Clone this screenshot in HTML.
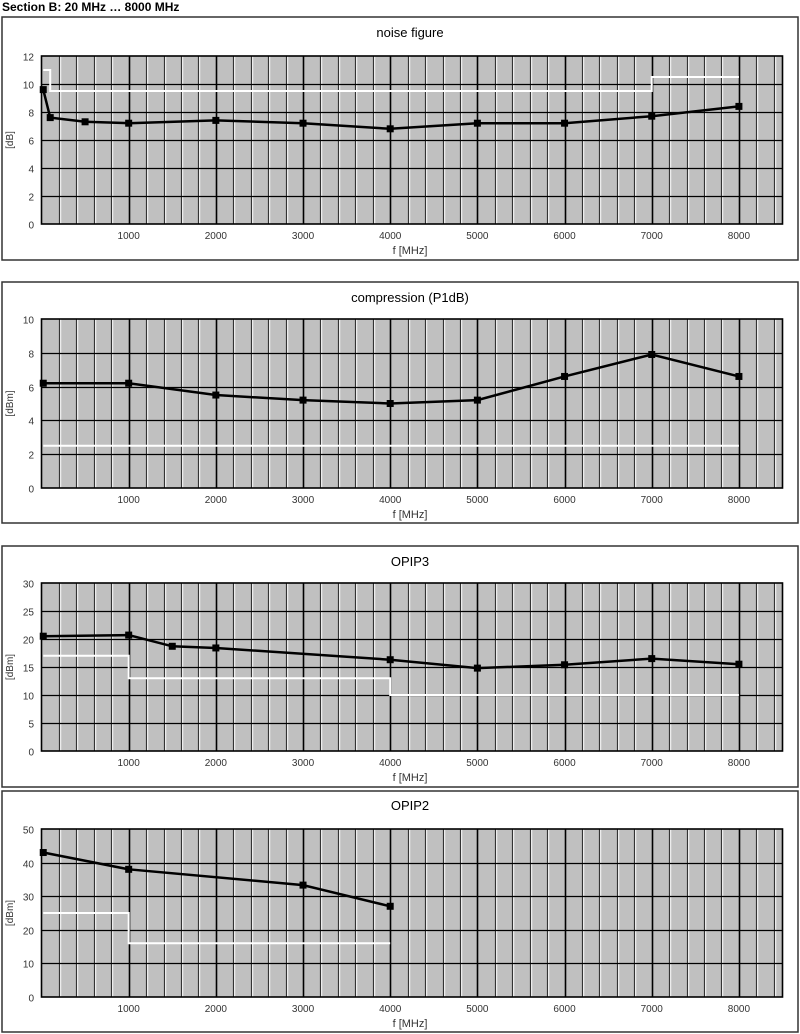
<!DOCTYPE html>
<html><head><meta charset="utf-8"><style>
body{margin:0;background:#fff;width:800px;height:1034px;overflow:hidden}
svg{display:block;font-family:"Liberation Sans",Arial,sans-serif}
</style></head><body>
<svg id="s" width="800" height="1034" xmlns="http://www.w3.org/2000/svg">
<text x="2" y="11" font-size="12" font-weight="bold">Section B: 20 MHz … 8000 MHz</text>
</svg>
<script>
// noise figure
const nfFreq=[20,100,500,1000,2000,3000,4000,5000,6000,7000,8000];
const nfVals=[9.6,7.6,7.3,7.2,7.4,7.2,6.8,7.2,7.2,7.7,8.4];
const nfSpecF=[20,20,100,100,7000,7000,8000];
const nfSpecV=[11,11,11,9.5,9.5,10.5,10.5];
const nfTicks=[0,2,4,6,8,10,12];
// compression
const p1Freq=[20,1000,2000,3000,4000,5000,6000,7000,8000];
const p1Vals=[6.2,6.2,5.5,5.2,5.0,5.2,6.6,7.9,6.6];
const p1SpecF=[20,8000];
const p1SpecV=[2.5,2.5];
const p1Ticks=[0,2,4,6,8,10];
// OPIP3
const ip3Freq=[20,1000,1500,2000,4000,5000,6000,7000,8000];
const ip3Vals=[20.5,20.7,18.7,18.4,16.3,14.8,15.4,16.5,15.5];
const ip3SpecF=[20,1000,1000,4000,4000,8000];
const ip3SpecV=[17,17,13,13,10,10];
const ip3Ticks=[0,5,10,15,20,25,30];
// OPIP2
const ip2Freq=[20,1000,3000,4000];
const ip2Vals=[43,38,33.3,27];
const ip2SpecF=[20,1000,1000,4000];
const ip2SpecV=[25,25,16,16];
const ip2Ticks=[0,10,20,30,40,50];
const xTicks=[1000,2000,3000,4000,5000,6000,7000,8000];

const NS="http://www.w3.org/2000/svg";
const svg=document.getElementById('s');
function mk(tag,attrs,parent){const e=document.createElementNS(NS,tag);for(const k in attrs)e.setAttribute(k,attrs[k]);(parent||svg).appendChild(e);return e;}

const charts=[
 {title:"noise figure",unit:"[dB]",fy0:17,fy1:260,py0:56,py1:224,ticks:nfTicks,f:nfFreq,v:nfVals,sf:nfSpecF,sv:nfSpecV,ty:33,key:"noise-figure"},
 {title:"compression (P1dB)",unit:"[dBm]",fy0:282,fy1:523,py0:319,py1:488,ticks:p1Ticks,f:p1Freq,v:p1Vals,sf:p1SpecF,sv:p1SpecV,ty:298,key:"compression"},
 {title:"OPIP3",unit:"[dBm]",fy0:546,fy1:787,py0:583,py1:751,ticks:ip3Ticks,f:ip3Freq,v:ip3Vals,sf:ip3SpecF,sv:ip3SpecV,ty:562,key:"opip3"},
 {title:"OPIP2",unit:"[dBm]",fy0:791,fy1:1032,py0:829,py1:997,ticks:ip2Ticks,f:ip2Freq,v:ip2Vals,sf:ip2SpecF,sv:ip2SpecV,ty:806,key:"opip2"}
];
const PX0=41.5,PX1=782.5,XMAX=8500;
charts.forEach(c=>{
 const g=mk('g',{});
 
 
 const ymax=c.ticks[c.ticks.length-1];
 const xs=f=>PX0+(f/XMAX)*(PX1-PX0);
 const ys=v=>c.py1-(v/ymax)*(c.py1-c.py0);
 const fr=mk('rect',{x:2,y:c.fy0,width:796,height:c.fy1-c.fy0,fill:'#fff',stroke:'#333','stroke-width':1.5},g);
 
 const t=mk('text',{x:410,y:c.ty+4,'font-size':13,'text-anchor':'middle'},g);t.textContent=c.title;
 
 const bg=mk('rect',{x:PX0,y:c.py0,width:PX1-PX0,height:c.py1-c.py0,fill:'#c0c0c0'},g);
 
 for(let f=200;f<XMAX;f+=200){
  const x=Math.round(xs(f))+0.5;
  if(f%1000===0){mk('line',{x1:x,x2:x,y1:c.py0,y2:c.py1,stroke:'#000','stroke-width':1.6},g);}
  else{mk('line',{x1:x,x2:x,y1:c.py0,y2:c.py1,stroke:'#333','stroke-width':1.2},g);
       mk('line',{x1:x+1.2,x2:x+1.2,y1:c.py0,y2:c.py1,stroke:'#fff','stroke-width':1},g);}
 }
 c.ticks.forEach(v=>{
  const y=Math.round(ys(v))+0.5;
  if(v>0&&v<ymax)mk('line',{x1:PX0,x2:PX1,y1:y,y2:y,stroke:'#000','stroke-width':1.2},g);
  const tl=mk('text',{x:34,y:y+4,'font-size':10,'text-anchor':'end',fill:'#333'},g);tl.textContent=v;
  
 });
 mk('rect',{x:PX0,y:c.py0,width:PX1-PX0,height:c.py1-c.py0,fill:'none',stroke:'#000','stroke-width':1.6},g);
 xTicks.forEach(f=>{
  const tl=mk('text',{x:xs(f),y:c.py1+15,'font-size':10,'text-anchor':'middle',fill:'#333'},g);tl.textContent=f;
  
 });
 const xt=mk('text',{x:410,y:c.py1+30,'font-size':11,'text-anchor':'middle',fill:'#333'},g);xt.textContent='f [MHz]';
 
 const yc=(c.py0+c.py1)/2;
 const yt=mk('text',{x:0,y:0,'font-size':10,'text-anchor':'middle',fill:'#333',transform:`translate(13,${yc}) rotate(-90)`},g);yt.textContent=c.unit;
 
 const sp=mk('polyline',{points:c.sf.map((f,i)=>xs(f)+','+ys(c.sv[i])).join(' '),fill:'none',stroke:'#fff','stroke-width':2},g);
 
 const ln=mk('polyline',{points:c.f.map((f,i)=>xs(f)+','+ys(c.v[i])).join(' '),fill:'none',stroke:'#000','stroke-width':2.5},g);
 
 c.f.forEach((f,i)=>{
  const p=mk('rect',{x:xs(f)-3.5,y:ys(c.v[i])-3.5,width:7,height:7,fill:'#000'},g);
  
 });
});
</script>
</body></html>
